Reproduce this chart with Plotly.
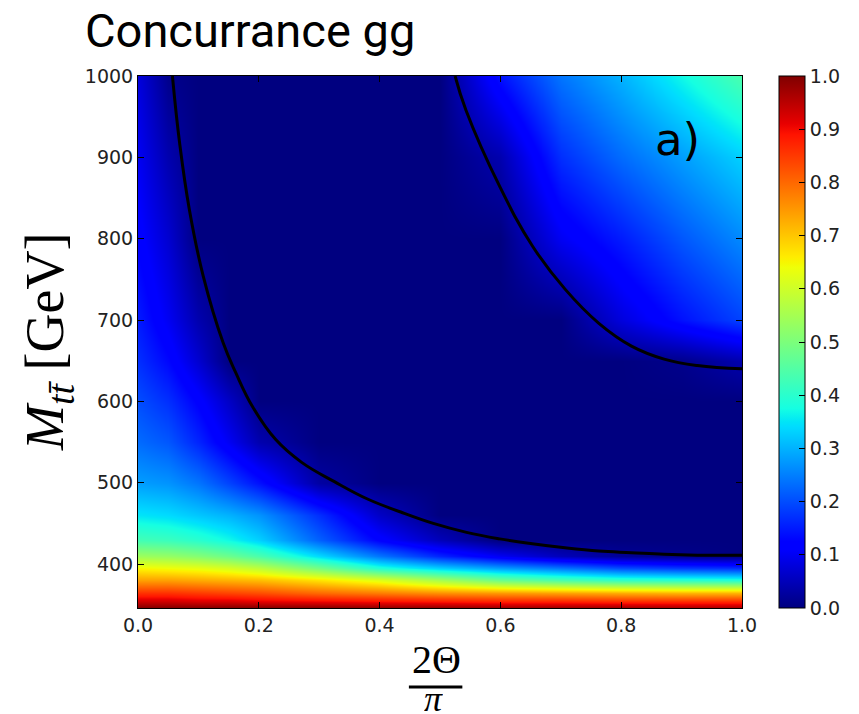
import plotly.graph_objects as go

# ---------------- data ----------------
theta_frac = [0.0, 0.05, 0.1, 0.15, 0.2, 0.3, 0.4, 0.5, 0.6, 0.7, 0.8, 0.9, 1.0]
mass_gev = [346, 355, 365, 380, 395, 410, 430, 460, 500, 550, 600, 650, 700, 800, 900, 1000]

row_346 = [1.00, 1.00, 1.00, 1.00, 1.00, 1.00, 0.99, 0.99, 0.98, 0.98, 0.98, 0.97, 0.97]
row_355 = [0.93, 0.93, 0.92, 0.92, 0.91, 0.90, 0.89, 0.88, 0.87, 0.87, 0.86, 0.86, 0.86]
row_365 = [0.86, 0.86, 0.85, 0.84, 0.83, 0.80, 0.78, 0.76, 0.75, 0.74, 0.73, 0.72, 0.72]
row_380 = [0.74, 0.74, 0.73, 0.72, 0.71, 0.67, 0.62, 0.55, 0.48, 0.44, 0.41, 0.40, 0.39]
row_395 = [0.65, 0.64, 0.63, 0.61, 0.58, 0.49, 0.39, 0.33, 0.28, 0.24, 0.20, 0.18, 0.17]
row_410 = [0.54, 0.53, 0.51, 0.48, 0.44, 0.34, 0.24, 0.16, 0.10, 0.05, 0.02, 0.01, 0.00]
row_430 = [0.43, 0.42, 0.40, 0.37, 0.33, 0.22, 0.12, 0.05, 0.00, 0.00, 0.00, 0.00, 0.00]
row_460 = [0.35, 0.34, 0.32, 0.30, 0.27, 0.17, 0.06, 0.00, 0.00, 0.00, 0.00, 0.00, 0.00]
row_500 = [0.28, 0.27, 0.24, 0.19, 0.14, 0.03, 0.00, 0.00, 0.00, 0.00, 0.00, 0.00, 0.00]
row_550 = [0.23, 0.21, 0.16, 0.10, 0.04, 0.00, 0.00, 0.00, 0.00, 0.00, 0.00, 0.00, 0.00]
row_600 = [0.20, 0.17, 0.12, 0.06, 0.00, 0.00, 0.00, 0.00, 0.00, 0.00, 0.00, 0.00, 0.00]
row_650 = [0.17, 0.13, 0.07, 0.00, 0.00, 0.00, 0.00, 0.00, 0.00, 0.00, 0.00, 0.01, 0.04]
row_700 = [0.15, 0.10, 0.04, 0.00, 0.00, 0.00, 0.00, 0.00, 0.00, 0.00, 0.08, 0.14, 0.19]
row_800 = [0.12, 0.07, 0.00, 0.00, 0.00, 0.00, 0.00, 0.00, 0.00, 0.10, 0.15, 0.21, 0.26]
row_900 = [0.10, 0.04, 0.00, 0.00, 0.00, 0.00, 0.00, 0.00, 0.04, 0.17, 0.23, 0.28, 0.33]
row_1000 = [0.08, 0.01, 0.00, 0.00, 0.00, 0.00, 0.00, 0.00, 0.14, 0.24, 0.30, 0.37, 0.44]

concurrence = [row_346, row_355, row_365, row_380, row_395, row_410, row_430, row_460,
               row_500, row_550, row_600, row_650, row_700, row_800, row_900, row_1000]

# boundary curves (concurrence = 0)
lower_curve_x = [0.057, 0.069, 0.085, 0.108, 0.141, 0.162, 0.19, 0.228, 0.271, 0.326, 0.38,
                 0.435, 0.489, 0.544, 0.599, 0.653, 0.707, 0.763, 0.817, 0.871, 0.926, 1.0]
lower_curve_m = [1000, 917, 836, 754, 672, 635, 593, 553, 525, 501, 480,
                 464, 450, 439, 431, 425, 420, 416, 414, 412, 411, 411]
upper_curve_x = [0.525, 0.543, 0.599, 0.653, 0.707, 0.763, 0.817, 0.871, 0.926, 1.0]
upper_curve_m = [1000, 958, 864, 791, 738, 696, 668, 652, 644, 640]

x_ticks = [0.0, 0.2, 0.4, 0.6, 0.8, 1.0]
y_ticks = [400, 500, 600, 700, 800, 900, 1000]
cbar_ticks = [0.0, 0.1, 0.2, 0.3, 0.4, 0.5, 0.6, 0.7, 0.8, 0.9, 1.0]

# ---------------- matplotlib "jet" colormap ----------------
_red = [(0, 0), (0.35, 0), (0.66, 1), (0.89, 1), (1, 0.5)]
_green = [(0, 0), (0.125, 0), (0.375, 1), (0.64, 1), (0.91, 0), (1, 0)]
_blue = [(0, 0.5), (0.11, 1), (0.34, 1), (0.65, 0), (1, 0)]


def _interp(seg, t):
    for (a, va), (b, vb) in zip(seg, seg[1:]):
        if a <= t <= b:
            return va + (vb - va) * (t - a) / (b - a) if b > a else vb
    return seg[-1][1]


stops = sorted({p for seg in (_red, _green, _blue) for p, _ in seg})
jet = []
for s in stops:
    r, g, b = (_interp(seg, s) for seg in (_red, _green, _blue))
    jet.append([s, f"rgb({round(r*255)},{round(g*255)},{round(b*255)})"])

# ---------------- figure ----------------
fig = go.Figure()
fig.add_trace(go.Heatmap(
    x=theta_frac, y=mass_gev, z=concurrence,
    zmin=0, zmax=1, zsmooth="best", colorscale=jet,
    hoverinfo="skip",
    colorbar=dict(
        x=1.062, xanchor="left", y=0.5, yanchor="middle",
        len=1, lenmode="fraction", thickness=26,
        xpad=0, ypad=0, outlinewidth=1, outlinecolor="black",
        ticks="inside", ticklen=6, tickcolor="black",
        tickvals=cbar_ticks, tickformat=".1f",
        tickfont=dict(family="DejaVu Sans", size=19, color="#222"),
    ),
))
for cx, cm in ((lower_curve_x, lower_curve_m), (upper_curve_x, upper_curve_m)):
    fig.add_trace(go.Scatter(x=cx, y=cm, mode="lines", showlegend=False,
                             line=dict(color="black", width=3, shape="spline",
                                       smoothing=1.2),
                             hoverinfo="skip"))

axis_common = dict(showline=True, linecolor="black", linewidth=1, mirror="ticks",
                   ticks="inside", ticklen=6, tickcolor="black", showgrid=False,
                   zeroline=False,
                   tickfont=dict(family="DejaVu Sans", size=19, color="#222"))

fig.update_layout(
    width=859, height=714,
    margin=dict(l=138, r=110, t=76, b=106),
    paper_bgcolor="white", plot_bgcolor="white",
    showlegend=False,
    xaxis=dict(range=[0, 1], tickvals=x_ticks, tickformat=".1f", **axis_common),
    yaxis=dict(range=[346, 1000], tickvals=y_ticks, **axis_common),
    annotations=[
        dict(text="Concurrance gg", xref="paper", yref="paper", x=-0.091, y=1.085,
             xanchor="left", yanchor="middle", showarrow=False,
             font=dict(family="Roboto", size=47, color="black")),
        dict(text="a)", xref="paper", yref="paper", x=0.8935, y=0.88,
             xanchor="center", yanchor="middle", showarrow=False,
             font=dict(family="DejaVu Sans", size=45, color="black")),
        dict(text="<i>M</i><sub><i>tt\u0304</i></sub> [GeV]", xref="paper", yref="paper",
             x=-0.149, y=0.5, xanchor="center", yanchor="middle", textangle=-90,
             showarrow=False, font=dict(family="Liberation Serif", size=54, color="black")),
        dict(text="2\u0398", xref="paper", yref="paper", x=0.494, y=-0.097,
             xanchor="center", yanchor="middle", showarrow=False,
             font=dict(family="Liberation Serif", size=40, color="black")),
        dict(text="<i>\u03c0</i>", xref="paper", yref="paper", x=0.49, y=-0.171,
             xanchor="center", yanchor="middle", showarrow=False, height=30,
             borderpad=0,
             font=dict(family="Liberation Serif", size=36, color="black")),
    ],
    shapes=[dict(type="line", xref="paper", yref="paper", x0=0.4485, x1=0.537,
                 y0=-0.1485, y1=-0.1485, line=dict(color="black", width=3))],
)

fig.write_html("out.html")
